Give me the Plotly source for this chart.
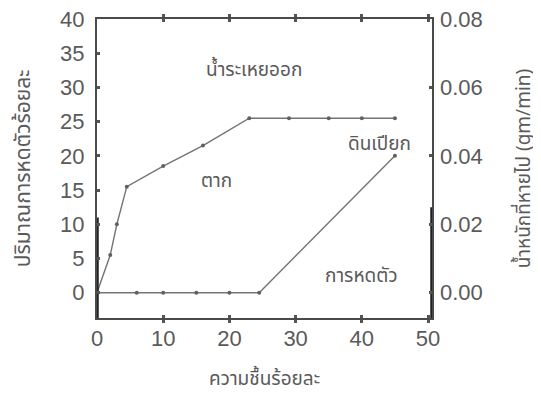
import plotly.graph_objects as go

# Data
dry_x = [0, 2, 3, 4.5, 10, 16, 23, 29, 35, 40, 45]
dry_y = [0, 5.5, 10, 15.5, 18.5, 21.5, 25.5, 25.5, 25.5, 25.5, 25.5]

shrink_x = [0, 6, 10, 15, 20, 24.5, 45]
shrink_y = [0, 0, 0, 0, 0, 0, 20]

# darker printed stretches along both vertical axes
bold_left_x = [0, 0]
bold_left_y = [-3.7, 11]
bold_right_x = [50.6, 50.6]
bold_right_y = [-3.7, 12.5]

x_ticks = [0, 10, 20, 30, 40, 50]
y_ticks = [0, 5, 10, 15, 20, 25, 30, 35, 40]
y2_ticks = [0.00, 0.02, 0.04, 0.06, 0.08]
y2_labels = ["0.00", "0.02", "0.04", "0.06", "0.08"]

labels = ["น้ำระเหยออก", "ตาก", "ดินเปียก", "การหดตัว"]
label_x = [23.7, 18.0, 42.6, 40.0]
label_y = [32.5, 16.3, 21.6, 2.3]

line_col = "#747474"
text_col = "#5a5a5a"
thai_font = "Noto Sans Thai, Loma, Garuda, Tlwg Typo, Noto Sans, DejaVu Sans, sans-serif"
num_font = "Liberation Sans, Arial, sans-serif"

fig = go.Figure()

fig.add_trace(go.Scatter(
    x=dry_x, y=dry_y, mode="lines+markers",
    line=dict(color=line_col, width=1.4),
    marker=dict(size=4, color="#606060"),
    showlegend=False, cliponaxis=False))

fig.add_trace(go.Scatter(
    x=shrink_x, y=shrink_y, mode="lines+markers",
    line=dict(color=line_col, width=1.4),
    marker=dict(size=4, color="#606060"),
    showlegend=False, cliponaxis=False))

for bx, by in ((bold_left_x, bold_left_y), (bold_right_x, bold_right_y)):
    fig.add_trace(go.Scatter(x=bx, y=by, mode="lines",
                             line=dict(color="#222222", width=3.5),
                             showlegend=False, hoverinfo="skip", cliponaxis=False))

# invisible trace to activate the secondary axis
fig.add_trace(go.Scatter(x=[0], y=[0], yaxis="y2", mode="markers",
                         marker=dict(opacity=0), showlegend=False, hoverinfo="skip"))

for t, xx, yy in zip(labels, label_x, label_y):
    fig.add_annotation(x=xx, y=yy, text=t, showarrow=False,
                       font=dict(family=thai_font, size=19, color=text_col))

tick_style = dict(ticks="inside", ticklen=3, tickwidth=3, tickcolor="#555555",
                  ticklabeloverflow="allow")

fig.update_layout(
    width=541, height=396,
    margin=dict(l=89, r=117, t=11, b=86),
    paper_bgcolor="white", plot_bgcolor="white",
    xaxis=dict(range=[0, 50.6], tickvals=x_ticks, automargin=False,
               ticklabelstandoff=0, **tick_style,
               showgrid=False, zeroline=False, showline=True, mirror="allticks",
               linecolor="#4a4a4a", linewidth=2,
               tickfont=dict(family=num_font, size=22, color=text_col),
               title=dict(text="ความชื้นร้อยละ", standoff=21,
                          font=dict(family=thai_font, size=19, color=text_col))),
    yaxis=dict(range=[-3.7, 40], tickvals=y_ticks, automargin=False,
               ticklabelstandoff=6, **tick_style,
               showgrid=False, zeroline=False, showline=True, mirror=True,
               linecolor="#4a4a4a", linewidth=2,
               tickfont=dict(family=num_font, size=22, color=text_col),
               title=dict(text="ปริมาณการหดตัวร้อยละ", standoff=34,
                          font=dict(family=thai_font, size=21, color=text_col))),
    yaxis2=dict(range=[-0.0074, 0.08], tickvals=y2_ticks, ticktext=y2_labels,
                overlaying="y", side="right", automargin=False,
                ticklabelstandoff=7, **tick_style,
                showgrid=False, zeroline=False, showline=False,
                tickfont=dict(family=num_font, size=22, color=text_col),
                title=dict(text="น้ำหนักที่หายไป (gm/min)", standoff=34,
                           font=dict(family=thai_font, size=19, color=text_col))),
)

fig.write_html("out.html")
